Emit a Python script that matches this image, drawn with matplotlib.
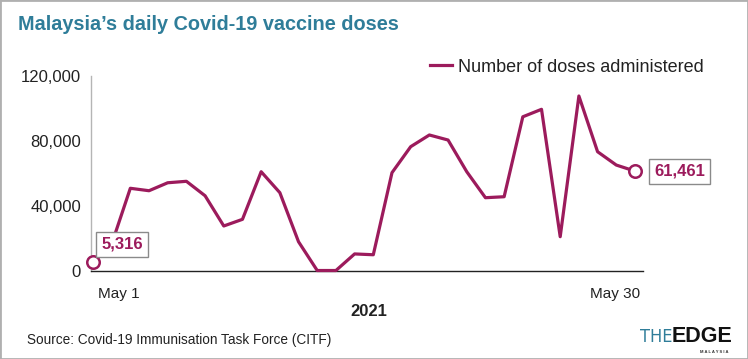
import matplotlib
matplotlib.use("Agg")
import matplotlib.pyplot as plt
import matplotlib.transforms as mtransforms
from matplotlib.patches import Rectangle
import numpy as np

# daily doses, May 1 - May 30 2021
days = list(range(30))
doses = [5316, 16500, 50900, 49400, 54300, 55200, 46300, 27700, 31800, 61100,
         48200, 18000, 300, 300, 10500, 10000, 60500, 76500, 83700, 80600,
         61100, 45100, 45700, 94900, 99500, 21100, 107700, 73400, 65200, 61461]
yticks = [0, 40000, 80000, 120000]
xtick_labels = ['May 1', 'May 30']

W, H = 748, 359
LINE = '#9c1b5c'
TEAL = '#2f7d99'
plt.rcParams['font.family'] = ['Liberation Sans', 'DejaVu Sans']

def fx(x):
    return x / W

def fy(y):
    return 1 - y / H

fig = plt.figure(figsize=(W / 100, H / 100), dpi=100)
ax = fig.add_axes([fx(90.7), fy(271), fx(643) - fx(90.7), fy(76) - fy(271)])

ax.plot(days, doses, color=LINE, lw=2.3, clip_on=False, zorder=3,
        label='Number of doses administered')
ax.plot([days[0], days[-1]], [doses[0], doses[-1]], ls='none', marker='o',
        ms=9, mfc='white', mec=LINE, mew=1.8, clip_on=False, zorder=4)

ax.set_xlim(-0.12, 29.43)
ax.set_ylim(0, 120000)
ax.set_yticks(yticks)
ax.set_yticklabels([f'{v:,}' for v in yticks])
ax.tick_params(axis='y', length=0, pad=7, labelsize=12, labelcolor='#222222')
ax.set_xticks([])
for s in ['top', 'right']:
    ax.spines[s].set_visible(False)
ax.spines['left'].set_color('#b5b5b5')
ax.spines['left'].set_linewidth(1)
ax.spines['bottom'].set_color('#222222')
ax.spines['bottom'].set_linewidth(1)

# date labels under the axis
shift = mtransforms.ScaledTranslation(5 / 100, 0, fig.dpi_scale_trans)
ax.text(days[0], -0.12, xtick_labels[0], transform=ax.get_xaxis_transform() + shift,
        ha='left', va='center', fontsize=11, color='#222222')
ax.text(days[-1], -0.12, xtick_labels[1], transform=ax.get_xaxis_transform() + shift,
        ha='right', va='center', fontsize=11, color='#222222')

box = dict(boxstyle='square,pad=0.3', fc='white', ec='#8a8a8a', lw=1)
ax.annotate(f'{doses[0]:,}', (days[0], doses[0]), xytext=(21, 13),
            textcoords='offset points', ha='center', va='center', fontsize=12,
            fontweight='bold', color=LINE, bbox=box, zorder=5)
ax.annotate(f'{doses[-1]:,}', (days[-1], doses[-1]), xytext=(32, 0),
            textcoords='offset points', ha='center', va='center', fontsize=12,
            fontweight='bold', color=LINE, bbox=box, zorder=5)

fig.legend(loc='center left', bbox_to_anchor=(fx(430), fy(67)), frameon=False,
           fontsize=13, handlelength=1.2, handletextpad=0.35, borderpad=0,
           borderaxespad=0, labelcolor='#222222')

fig.text(fx(18), fy(24), 'Malaysia\u2019s daily Covid-19 vaccine doses', ha='left',
         va='center', fontsize=14.3, fontweight='bold', color=TEAL)
fig.text(fx(369), fy(312), '2021', ha='center', va='center', fontsize=12,
         fontweight='bold', color='#222222')
fig.text(fx(27), fy(340), 'Source: Covid-19 Immunisation Task Force (CITF)',
         ha='left', va='center', fontsize=9.8, color='#222222')

# logo
fig.text(fx(673), fy(337), 'THE', ha='right', va='center', fontsize=13,
         family='DejaVu Sans', fontweight='light', fontstretch='condensed',
         color=TEAL)
fig.text(fx(672), fy(337), 'EDGE', ha='left', va='center', fontsize=15.5,
         fontweight='bold', color='#111111')
fig.text(fx(714), fy(352), 'M A L A Y S I A', ha='center', va='center',
         fontsize=3, fontweight='bold', color='#333333')

fig.patches.append(Rectangle((0, 0), 1, 1, transform=fig.transFigure, fill=False,
                             ec='#b0b0b0', lw=2))

fig.savefig('out.png', dpi=100)
